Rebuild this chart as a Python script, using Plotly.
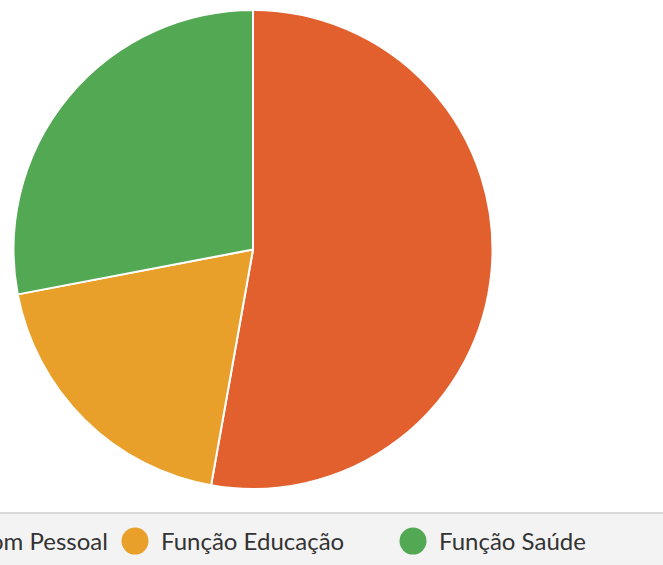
"""
Pie chart: share of spending (pessoal / educação / saúde)
"""

import plotly.graph_objects as go

# data
labels = ["Despesa com Pessoal", "Função Educação", "Função Saúde"]
values = [52.8, 19.2, 28.0]
colors = ["#E2602E", "#E9A02A", "#53A853"]

W, H = 663, 565
STRIP = 52  # height of the legend strip at the bottom
ITEM_W = 278  # spacing between legend items (px)
FIRST_CX = 135 - ITEM_W  # first legend marker sits off the left edge


def create_chart():
    fig = go.Figure()

    # pie
    fig.add_trace(go.Pie(
        labels=labels,
        values=values,
        sort=False,
        direction="clockwise",
        rotation=0,
        textinfo="none",
        hoverinfo="label+percent",
        marker=dict(colors=colors, line=dict(color="white", width=2)),
        domain=dict(x=[13 / W, 493 / W], y=[(H - 489) / H, (H - 10) / H]),
        showlegend=False,
    ))

    # legend markers
    cx = [FIRST_CX + i * ITEM_W for i in range(len(labels))]
    fig.add_trace(go.Scatter(
        x=cx,
        y=[0.46] * len(labels),
        mode="markers",
        marker=dict(size=27, color=colors, line=dict(width=0)),
        cliponaxis=False,
        hoverinfo="skip",
        showlegend=False,
    ))

    # legend labels (paper coords so the first one can run off the edge)
    annotations = []
    for i, lab in enumerate(labels):
        annotations.append(dict(
            text=lab, xref="paper", yref="paper",
            x=(cx[i] + 24) / W, y=(H - 540) / H,
            xanchor="left", yanchor="middle", showarrow=False,
            font=dict(family="Lato", size=24, color="#333333"),
        ))

    fig.update_layout(
        width=W, height=H,
        margin=dict(l=0, r=0, t=0, b=0, autoexpand=False),
        paper_bgcolor="white",
        plot_bgcolor="rgba(0,0,0,0)",
        xaxis=dict(range=[0, W], domain=[0, 1], visible=False, fixedrange=True),
        yaxis=dict(range=[0, 1], domain=[0, STRIP / H], visible=False, fixedrange=True),
        annotations=annotations,
        shapes=[
            dict(type="rect", xref="paper", yref="paper", x0=0, x1=1, y0=0, y1=STRIP / H,
                 fillcolor="#F3F3F3", line=dict(width=0), layer="below"),
            dict(type="line", xref="paper", yref="paper", x0=0, x1=1,
                 y0=STRIP / H, y1=STRIP / H, line=dict(color="#D8D8D8", width=2)),
        ],
    )
    return fig


fig = create_chart()
fig.write_html("out.html", config={"displayModeBar": False},
               post_script="document.body.style.margin='0';")
